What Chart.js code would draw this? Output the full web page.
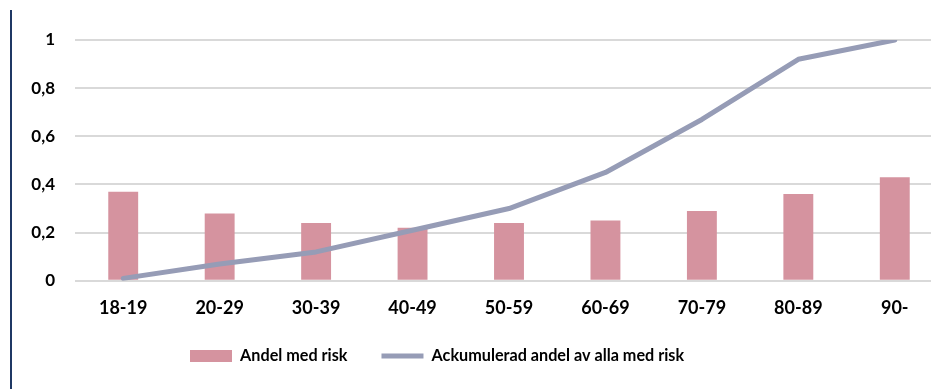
<!DOCTYPE html>
<html>
<head>
<meta charset="utf-8">
<script src="https://cdn.jsdelivr.net/npm/chart.js@4/dist/chart.umd.min.js"></script>
<style>
  body { margin: 0; width: 931px; height: 389px; overflow: hidden; background: #fff; position: relative; }
  #wrap { position: absolute; left: 0; top: 0; width: 943px; height: 389px; }
  #edge { position: absolute; left: 10px; top: 10px; width: 2px; height: 379px; background: #1F3864; }
</style>
</head>
<body>
<div id="wrap"><canvas id="riskChart" width="943" height="389"></canvas></div>
<div id="edge"></div>
<script>
const categories = ['18-19', '20-29', '30-39', '40-49', '50-59', '60-69', '70-79', '80-89', '90-'];
const andelMedRisk = [0.37, 0.28, 0.24, 0.22, 0.24, 0.25, 0.29, 0.36, 0.43];
const ackumuleradAndel = [0.01, 0.07, 0.12, 0.21, 0.30, 0.45, 0.67, 0.92, 1];
const yTicks = [0, 0.2, 0.4, 0.6, 0.8, 1];

const barColor = '#D5939F';
const lineColor = '#969CB6';
const legendPad = 34;

// put the legend where the original has it (starts at x=190, text centred on y=356)
const legendPlace = {
  id: 'legendPlace',
  afterLayout(chart) {
    const lg = chart.legend;
    const start = (lg.left + legendPad + lg.right - lg.lineWidths[0]) / 2;
    const dx = 190 - start;
    lg.left += dx;
    lg.right += dx;
    const h = lg.height;
    lg.top = 356 - legendPad - 8;
    lg.bottom = lg.top + h;
  }
};

const data = {
  labels: categories,
  datasets: [
    {
      type: 'line',
      label: 'Ackumulerad andel av alla med risk',
      data: ackumuleradAndel,
      borderColor: lineColor,
      backgroundColor: lineColor,
      borderWidth: 5,
      borderCapStyle: 'round',
      borderJoinStyle: 'round',
      pointRadius: 0,
      pointStyle: 'line',
      tension: 0,
      order: 1
    },
    {
      type: 'bar',
      label: 'Andel med risk',
      data: andelMedRisk,
      backgroundColor: barColor,
      borderWidth: 0,
      pointStyle: 'rect',
      barPercentage: 0.31,
      categoryPercentage: 1,
      order: 2
    }
  ]
};

const config = {
  type: 'bar',
  data: data,
  options: {
    responsive: false,
    animation: false,
    layout: { padding: { top: 40, left: 0, right: 0, bottom: 0 } },
    plugins: {
      legend: {
        position: 'bottom',
        reverse: true,
        labels: {
          usePointStyle: true,
          pointStyleWidth: 42,
          boxHeight: 12,
          padding: legendPad,
          color: '#000',
          font: { family: 'Lato', size: 16.2, weight: 'bold' }
        }
      },
      tooltip: { enabled: false }
    },
    scales: {
      x: {
        grid: { display: false, drawTicks: false },
        border: { display: false },
        ticks: {
          color: '#000',
          padding: 17,
          maxRotation: 0,
          font: { family: 'Lato', size: 18, weight: 'bold' }
        },
        afterFit(scale) { scale.height = 48; }
      },
      y: {
        min: 0,
        max: 1,
        afterBuildTicks(scale) { scale.ticks = yTicks.map(v => ({ value: v })); },
        grid: { color: '#D9D9D9', lineWidth: 2, drawTicks: false },
        border: { display: false },
        ticks: {
          color: '#000',
          padding: 20,
          font: { family: 'Lato', size: 17, weight: 'bold' },
          callback: (v) => String(Math.round(v * 10) / 10).replace('.', ',')
        },
        afterFit(scale) { scale.width = 75; }
      }
    }
  },
  plugins: [legendPlace]
};

new Chart('riskChart', config);
</script>
</body>
</html>
